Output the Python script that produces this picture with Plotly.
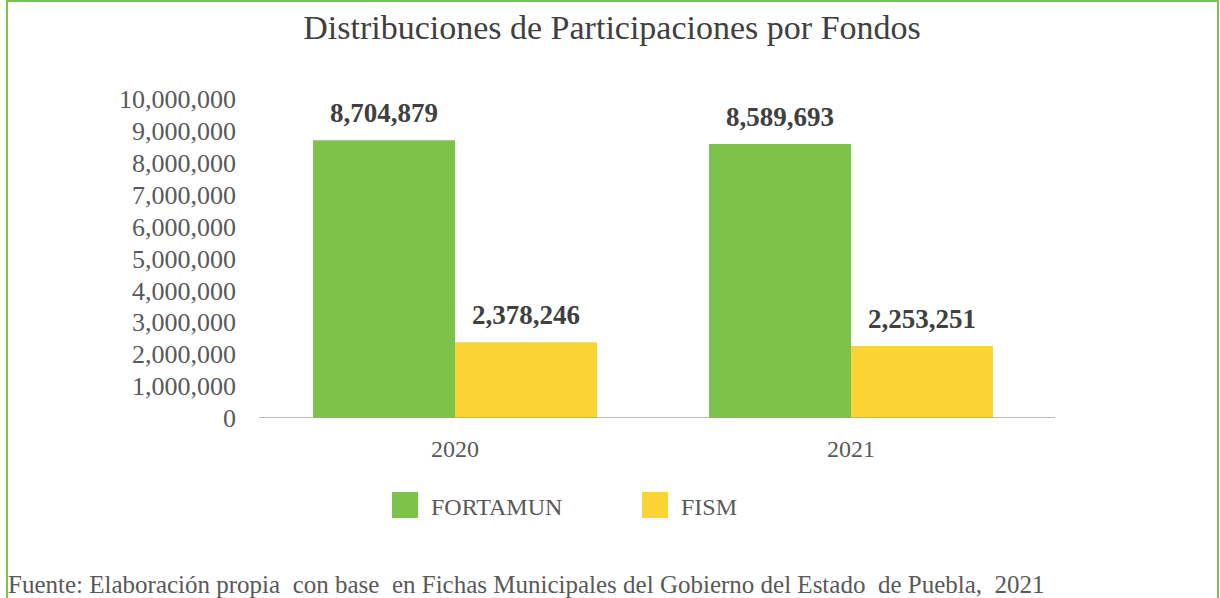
import plotly.graph_objects as go

years = ["2020", "2021"]
fortamun = [8704879, 8589693]
fism = [2378246, 2253251]
series_names = ["FORTAMUN", "FISM"]
series_colors = ["#7DC24B", "#FBD334"]
y_ticks = list(range(0, 10000001, 1000000))

SERIF = "Liberation Serif, Times New Roman, serif"
W, H = 1220, 598
L, R, T, B = 257, 171, 99, 180
plot_w = W - L - R
plot_h = H - T - B
BARGAP = 0.283


def px_x(px):
    return (px - L) / plot_w


def px_y(py):
    return (H - B - py) / plot_h


fig = go.Figure()
for name, vals, col in zip(series_names, [fortamun, fism], series_colors):
    fig.add_trace(go.Bar(
        x=years, y=vals, name=name, marker=dict(color=col, line=dict(width=0)),
        showlegend=False,
    ))

# value labels above each bar: category index plus a quarter-group offset
group_w = 1 - BARGAP
offsets = [-group_w / 4, group_w / 4]
for vals, dx in zip([fortamun, fism], offsets):
    for i, v in enumerate(vals):
        fig.add_annotation(
            x=i + dx, y=v, xref="x", yref="y", text=f"{v:,}", showarrow=False,
            yanchor="bottom", yshift=10,
            font=dict(family=SERIF, size=27, color="#404040", weight="bold"),
        )

shapes = []
# baseline of the value axis, running slightly past the plot area on the right
shapes.append(dict(type="line", xref="paper", yref="y",
                   x0=px_x(259), x1=px_x(1055), y0=0, y1=0,
                   line=dict(color="#A6A6A6", width=1.5), layer="above"))

# legend drawn as colored squares with labels
legend_items = [(392, series_names[0], series_colors[0]), (642, series_names[1], series_colors[1])]
for x0, name, col in legend_items:
    shapes.append(dict(type="rect", xref="paper", yref="paper",
                       x0=px_x(x0), x1=px_x(x0 + 26), y0=px_y(518), y1=px_y(492),
                       fillcolor=col, line=dict(width=0)))
    fig.add_annotation(x=px_x(x0 + 37), y=px_y(507), xref="paper", yref="paper",
                       text=name, showarrow=False, xanchor="left", yanchor="middle",
                       font=dict(family=SERIF, size=24, color="#595959"))

# green frame around the chart
shapes.append(dict(type="rect", xref="paper", yref="paper",
                   x0=px_x(7), x1=px_x(1218), y0=px_y(640), y1=px_y(1),
                   line=dict(color="#7DC24B", width=2), fillcolor="rgba(0,0,0,0)",
                   layer="below"))

fig.add_annotation(
    x=px_x(6), y=px_y(584), xref="paper", yref="paper", xanchor="left", yanchor="middle",
    text="Fuente: Elaboración propia  con base  en Fichas Municipales del Gobierno del Estado  de Puebla,  2021",
    showarrow=False, font=dict(family=SERIF, size=25, color="#595959"),
)

fig.update_layout(
    width=W, height=H,
    margin=dict(l=L, r=R, t=T, b=B, autoexpand=False),
    paper_bgcolor="white", plot_bgcolor="white",
    barmode="group", bargap=BARGAP, bargroupgap=0,
    title=dict(text="Distribuciones de Participaciones por Fondos", x=612 / W, xref="container",
               y=1 - 27 / H, yanchor="middle", xanchor="center",
               font=dict(family=SERIF, size=34, color="#404040")),
    shapes=shapes,
    xaxis=dict(
        type="category", range=[-0.5, len(years) - 0.5],
        showline=False, showgrid=False,
        ticks="", tickfont=dict(family=SERIF, size=24, color="#595959"),
        ticklabelstandoff=14,
    ),
    yaxis=dict(
        range=[0, 10000000], tickvals=y_ticks, ticktext=[f"{v:,}" for v in y_ticks],
        showgrid=False, zeroline=False, showline=False, ticks="",
        tickfont=dict(family=SERIF, size=26, color="#595959"),
        ticklabelstandoff=20,
    ),
)

fig.write_html("out.html")
